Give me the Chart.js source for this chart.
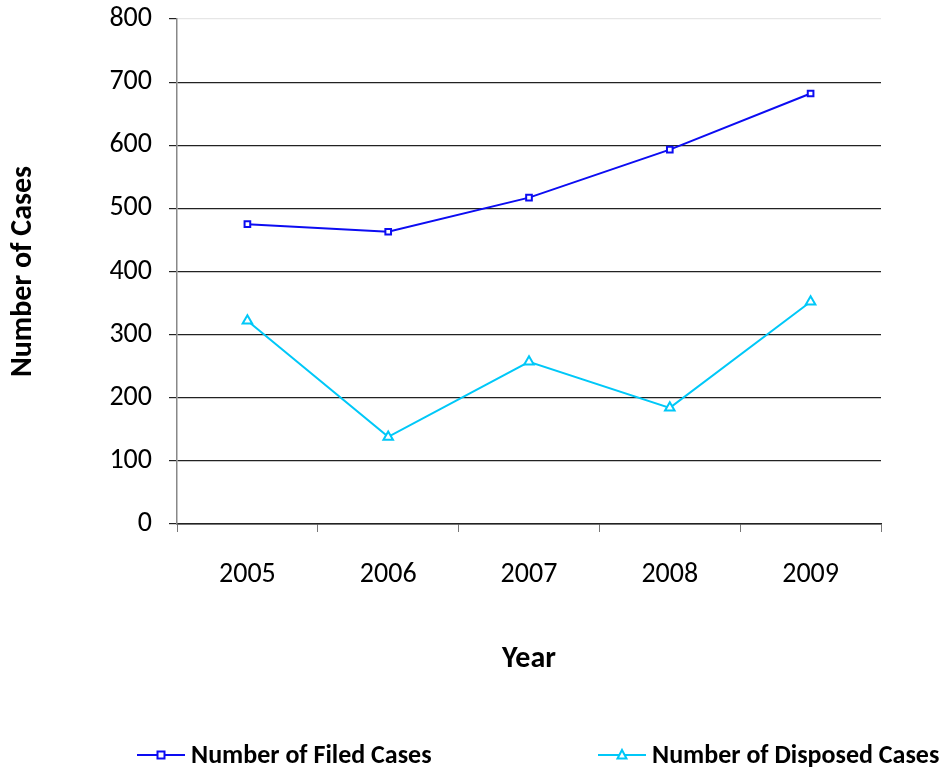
<!DOCTYPE html>
<html>
<head>
<meta charset="utf-8">
<script src="https://cdn.jsdelivr.net/npm/chart.js@4.4.0/dist/chart.umd.min.js"></script>
<style>
  html, body { margin: 0; padding: 0; background: #fff; }
  #wrap { width: 946px; height: 774px; position: relative; }
</style>
</head>
<body>
<div id="wrap"><canvas id="casesChart" width="946" height="774"></canvas></div>
<script>
const years = ['2005', '2006', '2007', '2008', '2009'];
const filedCases = [475, 463, 517, 593, 682];
const disposedCases = [322, 138, 257, 184, 352];
const yTicks = [0, 100, 200, 300, 400, 500, 600, 700, 800];

const FONT = "Carlito, Lato, 'Open Sans', sans-serif";

// legend drawn by hand so the line runs through the marker like the original
const lineLegend = {
    id: 'lineLegend',
    afterDraw(chart) {
        const ctx = chart.ctx;
        const items = [
            { x: 137, ds: chart.data.datasets[0] },
            { x: 598, ds: chart.data.datasets[1] }
        ];
        const y = 755;
        ctx.save();
        items.forEach(it => {
            ctx.strokeStyle = it.ds.borderColor;
            ctx.lineWidth = 2;
            ctx.beginPath();
            ctx.moveTo(it.x, y);
            ctx.lineTo(it.x + 48, y);
            ctx.stroke();
            const cx = it.x + 24;
            ctx.fillStyle = '#fff';
            ctx.lineWidth = 2;
            ctx.beginPath();
            if (it.ds.pointStyle === 'rect') {
                ctx.rect(cx - 3.5, y - 3.5, 7, 7);
            } else {
                ctx.moveTo(cx, y - 5);
                ctx.lineTo(cx + 4.5, y + 3.5);
                ctx.lineTo(cx - 4.5, y + 3.5);
                ctx.closePath();
            }
            ctx.fill();
            ctx.stroke();
            ctx.fillStyle = '#000';
            ctx.font = 'bold 26px ' + FONT;
            ctx.textBaseline = 'middle';
            ctx.fillText(it.ds.label, it.x + 54, y + 1);
        });
        ctx.restore();
    }
};

new Chart(document.getElementById('casesChart').getContext('2d'), {
    type: 'line',
    data: {
        labels: years,
        datasets: [{
            label: 'Number of Filed Cases',
            data: filedCases,
            borderColor: '#0c0cf2',
            backgroundColor: '#fff',
            borderWidth: 2,
            pointStyle: 'rect',
            pointRadius: 4,
            pointBorderWidth: 2,
            tension: 0
        }, {
            label: 'Number of Disposed Cases',
            data: disposedCases,
            borderColor: '#00c8f8',
            backgroundColor: '#fff',
            borderWidth: 2,
            pointStyle: 'triangle',
            pointRadius: 5.5,
            pointBorderWidth: 2,
            tension: 0
        }]
    },
    options: {
        responsive: false,
        animation: false,
        layout: { padding: { top: 19, right: 65, bottom: 0, left: 0 } },
        plugins: {
            legend: { display: false },
            tooltip: { enabled: false }
        },
        scales: {
            x: {
                offset: true,
                afterFit: s => { s.height = 250; s.paddingLeft = 0; s.paddingRight = 0; },
                grid: {
                    offset: true,
                    drawOnChartArea: false,
                    color: '#777',
                    tickLength: 8
                },
                border: { color: '#222', width: 1.5 },
                ticks: { color: '#000', padding: 26, font: { family: FONT, size: 28 } },
                title: {
                    display: true,
                    text: 'Year',
                    color: '#000',
                    font: { family: FONT, size: 30, weight: 'bold' },
                    padding: { top: 0, bottom: 97 }
                }
            },
            y: {
                min: 0,
                max: 800,
                afterFit: s => { s.width = 177; s.paddingTop = 0; s.paddingBottom = 0; },
                afterBuildTicks: s => { s.ticks = yTicks.map(v => ({ value: v })); },
                grid: {
                    color: c => (c.tick && c.tick.value === 800) ? '#e6e6e6' : '#222',
                    lineWidth: 1.2,
                    tickColor: '#222',
                    tickLength: 8
                },
                border: { color: '#888', width: 1.5 },
                ticks: { color: '#000', padding: 17, font: { family: FONT, size: 28 } },
                title: {
                    display: true,
                    text: 'Number of Cases',
                    color: '#000',
                    font: { family: FONT, size: 30, weight: 'bold' },
                    padding: { top: 5, bottom: 0 }
                }
            }
        }
    },
    plugins: [lineLegend]
});
</script>
</body>
</html>
